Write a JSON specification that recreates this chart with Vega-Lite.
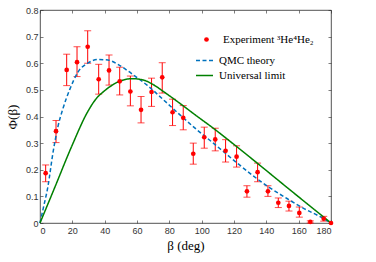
{
  "$schema": "https://vega.github.io/schema/vega-lite/v6.json",
  "width": 291,
  "height": 213,
  "autosize": {"type": "none"},
  "padding": {"left": 40, "top": 10, "right": 45, "bottom": 39},
  "config": {
    "view": {"stroke": "#262626", "strokeWidth": 0.8},
    "axis": {
      "domain": false,
      "grid": false,
      "tickColor": "#262626",
      "tickSize": -3,
      "tickWidth": 0.6,
      "labelFont": "Liberation Sans",
      "labelFontSize": 9,
      "labelFontWeight": "normal",
      "labelColor": "#333333",
      "titleFont": "Liberation Serif",
      "titleFontSize": 13,
      "titleFontWeight": "normal",
      "titleColor": "#000000"
    },
    "legend": {"labelFontWeight": "normal"}
  },
  "datasets": {
    "exp": [
      {"deg": 3.5, "val": 0.187, "lo": 0.155, "hi": 0.218},
      {"deg": 9.9, "val": 0.345, "lo": 0.302, "hi": 0.385},
      {"deg": 16.5, "val": 0.575, "lo": 0.516, "hi": 0.634},
      {"deg": 22.9, "val": 0.604, "lo": 0.55, "hi": 0.662},
      {"deg": 29.5, "val": 0.662, "lo": 0.6, "hi": 0.722},
      {"deg": 36.3, "val": 0.54, "lo": 0.484, "hi": 0.596},
      {"deg": 42.7, "val": 0.573, "lo": 0.518, "hi": 0.631},
      {"deg": 49.3, "val": 0.532, "lo": 0.481, "hi": 0.585},
      {"deg": 55.9, "val": 0.494, "lo": 0.44, "hi": 0.552},
      {"deg": 62.5, "val": 0.425, "lo": 0.376, "hi": 0.475},
      {"deg": 69.0, "val": 0.492, "lo": 0.438, "hi": 0.544},
      {"deg": 75.6, "val": 0.547, "lo": 0.488, "hi": 0.602},
      {"deg": 82.0, "val": 0.416, "lo": 0.366, "hi": 0.465},
      {"deg": 88.6, "val": 0.395, "lo": 0.35, "hi": 0.441},
      {"deg": 94.8, "val": 0.26, "lo": 0.221, "hi": 0.3},
      {"deg": 101.6, "val": 0.322, "lo": 0.281, "hi": 0.36},
      {"deg": 108.4, "val": 0.314, "lo": 0.271, "hi": 0.356},
      {"deg": 114.8, "val": 0.271, "lo": 0.229, "hi": 0.313},
      {"deg": 121.6, "val": 0.249, "lo": 0.21, "hi": 0.29},
      {"deg": 128.0, "val": 0.119, "lo": 0.097, "hi": 0.14},
      {"deg": 134.6, "val": 0.191, "lo": 0.155, "hi": 0.225},
      {"deg": 141.0, "val": 0.119, "lo": 0.1, "hi": 0.14},
      {"deg": 147.4, "val": 0.076, "lo": 0.058, "hi": 0.094},
      {"deg": 154.0, "val": 0.064, "lo": 0.045, "hi": 0.082},
      {"deg": 160.4, "val": 0.038, "lo": 0.022, "hi": 0.06},
      {"deg": 167.2, "val": 0.004, "lo": 0.0, "hi": 0.008},
      {"deg": 175.5, "val": 0.016, "lo": 0.007, "hi": 0.025},
      {"deg": 180.0, "val": 0.0, "lo": null, "hi": null}
    ],
    "curves": [
      {"series": "QMC theory", "deg": 0, "val": 0},
      {"series": "QMC theory", "deg": 2, "val": 0.055},
      {"series": "QMC theory", "deg": 4.9, "val": 0.137},
      {"series": "QMC theory", "deg": 8, "val": 0.263},
      {"series": "QMC theory", "deg": 11.1, "val": 0.362},
      {"series": "QMC theory", "deg": 14.2, "val": 0.43},
      {"series": "QMC theory", "deg": 18.3, "val": 0.5},
      {"series": "QMC theory", "deg": 23.5, "val": 0.567},
      {"series": "QMC theory", "deg": 29.7, "val": 0.601},
      {"series": "QMC theory", "deg": 35.9, "val": 0.614},
      {"series": "QMC theory", "deg": 42, "val": 0.612},
      {"series": "QMC theory", "deg": 48.2, "val": 0.596},
      {"series": "QMC theory", "deg": 54.4, "val": 0.571},
      {"series": "QMC theory", "deg": 59.6, "val": 0.548},
      {"series": "QMC theory", "deg": 66, "val": 0.519},
      {"series": "QMC theory", "deg": 76.3, "val": 0.463},
      {"series": "QMC theory", "deg": 86.6, "val": 0.406},
      {"series": "QMC theory", "deg": 96.9, "val": 0.351},
      {"series": "QMC theory", "deg": 107.2, "val": 0.3},
      {"series": "QMC theory", "deg": 121.6, "val": 0.227},
      {"series": "QMC theory", "deg": 131.9, "val": 0.177},
      {"series": "QMC theory", "deg": 142.2, "val": 0.132},
      {"series": "QMC theory", "deg": 152.5, "val": 0.093},
      {"series": "QMC theory", "deg": 162.8, "val": 0.056},
      {"series": "QMC theory", "deg": 173.2, "val": 0.024},
      {"series": "QMC theory", "deg": 180, "val": 0},
      {"series": "Universal limit", "deg": 0, "val": 0},
      {"series": "Universal limit", "deg": 9.1, "val": 0.133},
      {"series": "Universal limit", "deg": 19.4, "val": 0.285},
      {"series": "Universal limit", "deg": 29.7, "val": 0.42},
      {"series": "Universal limit", "deg": 34.5, "val": 0.465},
      {"series": "Universal limit", "deg": 40, "val": 0.497},
      {"series": "Universal limit", "deg": 45, "val": 0.519},
      {"series": "Universal limit", "deg": 50.3, "val": 0.535},
      {"series": "Universal limit", "deg": 57, "val": 0.542},
      {"series": "Universal limit", "deg": 63.9, "val": 0.537},
      {"series": "Universal limit", "deg": 70, "val": 0.52},
      {"series": "Universal limit", "deg": 76.3, "val": 0.494},
      {"series": "Universal limit", "deg": 86.6, "val": 0.449},
      {"series": "Universal limit", "deg": 96.9, "val": 0.402},
      {"series": "Universal limit", "deg": 107.2, "val": 0.356},
      {"series": "Universal limit", "deg": 117.5, "val": 0.307},
      {"series": "Universal limit", "deg": 131.9, "val": 0.237},
      {"series": "Universal limit", "deg": 152.5, "val": 0.135},
      {"series": "Universal limit", "deg": 180, "val": 0}
    ]
  },
  "resolve": {"axis": {"x": "independent", "y": "independent"}},
  "layer": [
    {
      "data": {"name": "exp"},
      "mark": {"type": "rule", "color": "#ff0000", "strokeWidth": 1},
      "encoding": {
        "x": {
          "field": "deg", "type": "quantitative",
          "scale": {"domain": [0, 180], "nice": false},
          "axis": {"orient": "bottom", "values": [0, 20, 40, 60, 80, 100, 120, 140, 160, 180], "title": "β (deg)", "labelPadding": 6, "titlePadding": 4}
        },
        "y": {
          "field": "lo", "type": "quantitative",
          "scale": {"domain": [0, 0.8], "nice": false},
          "axis": {"orient": "left", "values": [0, 0.1, 0.2, 0.3, 0.4, 0.5, 0.6, 0.7, 0.8], "format": ".1~f", "title": "Φ(β)", "labelPadding": 5, "titlePadding": 6}
        },
        "y2": {"field": "hi"}
      }
    },
    {
      "data": {"name": "exp"},
      "mark": {"type": "tick", "color": "#ff0000", "orient": "horizontal", "size": 7, "thickness": 1},
      "encoding": {
        "x": {"field": "deg", "type": "quantitative", "axis": null},
        "y": {"field": "lo", "type": "quantitative", "axis": null}
      }
    },
    {
      "data": {"name": "exp"},
      "mark": {"type": "tick", "color": "#ff0000", "orient": "horizontal", "size": 7, "thickness": 1},
      "encoding": {
        "x": {"field": "deg", "type": "quantitative", "axis": null},
        "y": {"field": "hi", "type": "quantitative", "axis": null}
      }
    },
    {
      "data": {"name": "curves"},
      "mark": {"type": "line", "strokeWidth": 1.5, "interpolate": "monotone"},
      "encoding": {
        "x": {"field": "deg", "type": "quantitative",
          "axis": {"orient": "top", "values": [0, 20, 40, 60, 80, 100, 120, 140, 160, 180], "labels": false, "title": null}},
        "y": {"field": "val", "type": "quantitative",
          "axis": {"orient": "right", "values": [0, 0.1, 0.2, 0.3, 0.4, 0.5, 0.6, 0.7, 0.8], "labels": false, "title": null}},
        "color": {
          "field": "series", "type": "nominal",
          "scale": {"domain": ["QMC theory", "Universal limit"], "range": ["#0072BD", "#008000"]},
          "legend": {
            "orient": "none", "legendX": 155, "legendY": 41, "title": null,
            "symbolType": "stroke", "symbolSize": 289, "symbolStrokeWidth": 1.5,
            "labelFont": "Liberation Serif", "labelFontSize": 11, "labelColor": "#000000",
            "labelOffset": 5, "padding": 0, "rowPadding": -4
          }
        },
        "strokeDash": {
          "field": "series", "type": "nominal",
          "scale": {"domain": ["QMC theory", "Universal limit"], "range": [[4, 2.5], [1, 0]]},
          "legend": {
            "orient": "none", "legendX": 155, "legendY": 41, "title": null,
            "symbolType": "stroke", "symbolSize": 289, "symbolStrokeWidth": 1.5,
            "labelFont": "Liberation Serif", "labelFontSize": 11, "labelColor": "#000000",
            "labelOffset": 5, "padding": 0, "rowPadding": -4
          }
        }
      }
    },
    {
      "data": {"name": "exp"},
      "mark": {"type": "point", "filled": true, "color": "#ff0000", "size": 22, "opacity": 1, "clip": false},
      "encoding": {
        "x": {"field": "deg", "type": "quantitative", "axis": null},
        "y": {"field": "val", "type": "quantitative", "axis": null},
        "shape": {
          "datum": "Experiment ³He⁴He₂",
          "scale": {"range": ["circle"]},
          "legend": {
            "orient": "none", "legendX": 161, "legendY": 24, "title": null,
            "symbolFillColor": "#ff0000", "symbolStrokeColor": "#ff0000", "symbolSize": 22,
            "labelFont": "Liberation Serif", "labelFontSize": 11, "labelColor": "#000000",
            "labelOffset": 11, "padding": 0
          }
        }
      }
    }
  ]
}
